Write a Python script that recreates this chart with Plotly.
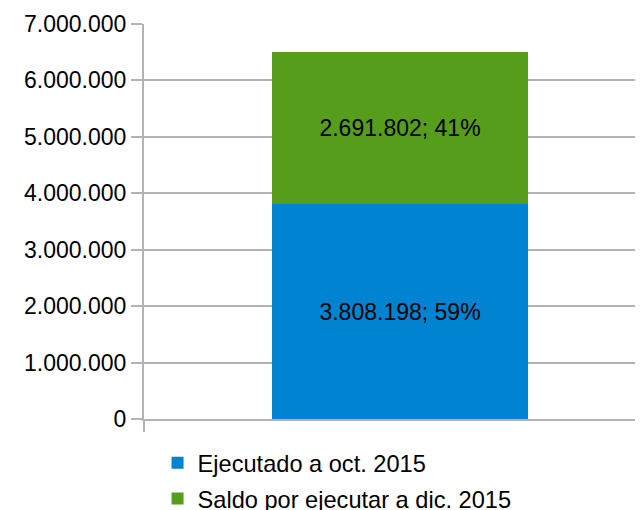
import plotly.graph_objects as go

categories = ["Presupuesto 2015"]
series_names = ["Ejecutado a oct. 2015", "Saldo por ejecutar a dic. 2015"]
ejecutado = [3808198]
saldo = [2691802]
series_values = [ejecutado, saldo]
colors = ["#0084d1", "#579d1c"]
tick_values = [0, 1000000, 2000000, 3000000, 4000000, 5000000, 6000000, 7000000]

FONT = "Liberation Sans, Arial, sans-serif"
FS = 23

total = [sum(v[i] for v in series_values) for i in range(len(categories))]

fig = go.Figure()
for name, vals, col in zip(series_names, series_values, colors):
    pct = [f"{round(v / t * 100)}%" for v, t in zip(vals, total)]
    fig.add_trace(go.Bar(
        x=categories, y=vals, name=name, legendgroup=name,
        marker=dict(color=col, line=dict(width=0)),
        width=0.5,
        customdata=pct,
        texttemplate="%{y:,d}; %{customdata}",
        textposition="inside", insidetextanchor="middle", textangle=0,
        constraintext="none",
        textfont=dict(family=FONT, size=FS, color="#000000"),
        hoverinfo="skip",
    ))

fig.update_layout(
    width=643, height=510,
    margin=dict(l=136, r=0, t=16, b=99, autoexpand=False),
    barmode="stack",
    separators=",.",
    paper_bgcolor="white", plot_bgcolor="white",
    font=dict(family=FONT, size=FS, color="#000000"),
    showlegend=True,
    legend=dict(
        orientation="v", traceorder="grouped", tracegroupgap=2,
        xref="container", yref="container",
        x=0.2326, xanchor="left", y=0.151, yanchor="top",
        font=dict(family=FONT, size=23.6, color="#000000"),
        bgcolor="rgba(0,0,0,0)", itemclick=False,
    ),
)
fig.update_xaxes(
    type="category", range=[-0.5, 0.4902], automargin=False,
    showticklabels=False, tickson="boundaries",
    ticks="outside", ticklen=11, tickwidth=2, tickcolor="#b3b3b3",
    showline=True, linecolor="#b3b3b3", linewidth=2,
    showgrid=False, zeroline=False,
)
fig.update_yaxes(
    range=[0, 7000000], tickvals=tick_values, tickformat=",d",
    automargin=False,
    showgrid=True, gridcolor="#b3b3b3", gridwidth=1.5,
    showline=True, linecolor="#b3b3b3", linewidth=2,
    ticks="outside", ticklen=11, tickwidth=1.5, tickcolor="#b3b3b3",
    zeroline=False,
    tickfont=dict(family=FONT, size=FS, color="#000000"),
)

fig.write_html("out.html")
